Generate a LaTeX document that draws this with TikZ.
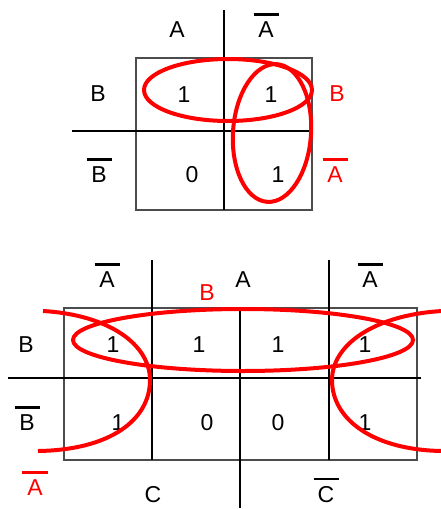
\documentclass[tikz,border=0pt]{standalone}
\usepackage{fontspec}
\setmainfont{Liberation Sans}
\newcommand{\nbar}[1]{\vbox{\hrule height 2.6pt width 25pt \kern 5.5pt \hbox to 25pt{\hss #1\hss}}}

\begin{document}
\begin{tikzpicture}[
    x=1pt, y=-1pt,
    lbl/.style={anchor=base, inner sep=0pt, font=\fontsize{23}{26}\selectfont},
    grp/.style={lbl, text=red},
    axis/.style={black, line width=2pt},
    box/.style={black!70, line width=1.2pt},
    loop/.style={red, line width=4pt}
]
    \useasboundingbox (0,0) rectangle (440,509);

    % top map
    \draw[box] (136,58) rectangle (312,210);
    \draw[axis] (224,10) -- (224,210);
    \draw[axis] (72,131) -- (310,131);

    \node[lbl] (tA) at (177,37) {A};
    \node[lbl] (tnA) at (266,37) {\nbar{A}};
    \node[lbl] (tB) at (98,101) {B};
    \node[lbl] (tnB) at (99,182) {\nbar{B}};

    \node[lbl] (t11) at (184,102) {1};
    \node[lbl] (t12) at (271,102) {1};
    \node[lbl] (t21) at (192,182) {0};
    \node[lbl] (t22) at (278,182) {1};

    \draw[loop] (228,90) ellipse [x radius=84, y radius=31];
    \draw[loop, rotate around={-4:(272,133)}] (272,133) ellipse [x radius=39, y radius=69];

    \node[grp] (tgB) at (337,101) {B};
    \node[grp] (tgnA) at (335,182) {\nbar{A}};

    % bottom map
    \draw[box] (64,308) rectangle (417,460);
    \draw[axis] (152,260) -- (152,460);
    \draw[axis] (240,308) -- (240,508);
    \draw[axis] (329,260) -- (329,460);
    \draw[black, line width=1.3pt] (8,378) -- (421,378);

    \node[lbl] (bnA1) at (107,287) {\nbar{A}};
    \node[lbl] (bA) at (243,287) {A};
    \node[lbl] (bnA2) at (370,287) {\nbar{A}};
    \node[lbl] (bB) at (26,352) {B};
    \node[lbl] (bnB) at (27,430) {\nbar{B}};
    \node[lbl] (bC) at (153,502) {C};
    \node[lbl] (bnC) at (326,502) {\nbar{C}};

    \node[lbl] (b11) at (113,352) {1};
    \node[lbl] (b12) at (199,352) {1};
    \node[lbl] (b13) at (278,352) {1};
    \node[lbl] (b14) at (365,352) {1};
    \node[lbl] (b21) at (118,430) {1};
    \node[lbl] (b22) at (207,430) {0};
    \node[lbl] (b23) at (278,430) {0};
    \node[lbl] (b24) at (365,430) {1};

    \draw[loop] (243,340) ellipse [x radius=170, y radius=31];
    \draw[loop] (43,311) .. controls (110,315) and (150,345) .. (150,380)
                         .. controls (150,420) and (110,450) .. (38,451);
    \draw[loop] (442,311) .. controls (374,315) and (332,345) .. (332,380)
                         .. controls (332,420) and (374,450) .. (442,451);

    \node[grp] (bgB) at (207,300) {B};
    \node[grp] (bgnA) at (35,495) {\nbar{A}};

\end{tikzpicture}
\end{document}
